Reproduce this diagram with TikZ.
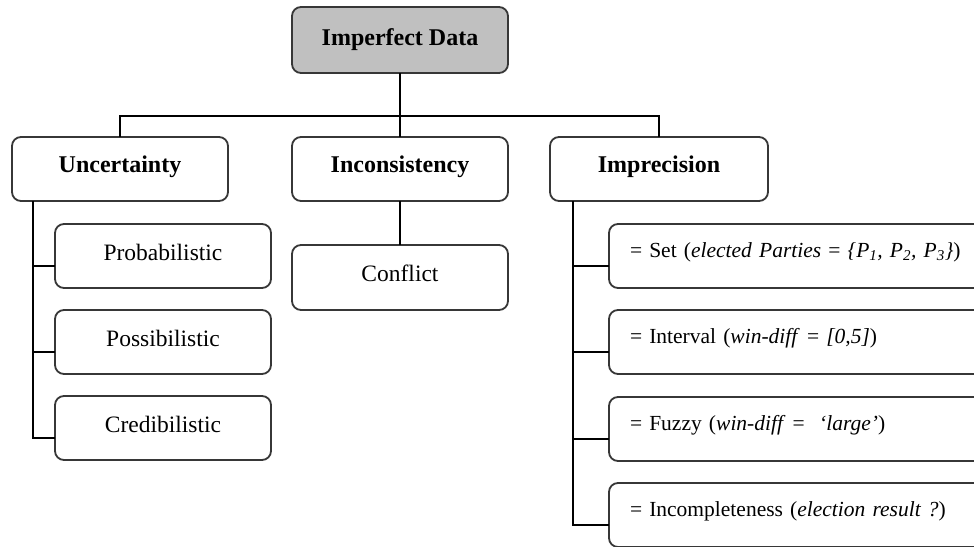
\documentclass[tikz,border=0pt]{standalone}
\usepackage{fontspec}
\setmainfont{Liberation Serif}
\usetikzlibrary{positioning}
\definecolor{boxline}{RGB}{55,55,55}
\definecolor{rootfill}{RGB}{192,192,192}
\tikzset{
  box/.style={draw=boxline, line width=1.8pt, rounded corners=9pt, fill=white,
    minimum width=216pt, minimum height=64pt, inner sep=0pt, outer sep=0pt, anchor=north west},
  headbox/.style={box, font=\fontsize{24}{28}\selectfont\bfseries, text height=16pt, text depth=9pt},
  subbox/.style={box, font=\fontsize{23.5}{28}\selectfont, text height=16pt, text depth=8pt},
  rightbox/.style={box, minimum width=381pt, text width=339pt, align=left, inner xsep=21pt,
    font=\fontsize{21.5}{26}\selectfont, text height=14.5pt, text depth=12pt},
  conn/.style={draw=black, line width=1.7pt}
}
\begin{document}
\begin{tikzpicture}[x=1pt,y=-1pt]
\useasboundingbox (0,0) rectangle (974,546);
\clip (0,0) rectangle (974,546);
\fill[white] (0,0) rectangle (974,546);
% top
\node[headbox, fill=rootfill, minimum height=66pt, text depth=6pt] (root) at (292,7) {Imperfect Data};
% level 1
\node[headbox] (unc) at (12,137) {Uncertainty};
\node[headbox] (inc) at (292,137) {Inconsistency};
\node[headbox, minimum width=218pt] (imp) at (550,137) {Imprecision};
% uncertainty children
\node[subbox] (pro) at (55,224) {Probabilistic};
\node[subbox] (pos) at (55,310) {Possibilistic};
\node[subbox] (cre) at (55,396) {Credibilistic};
% inconsistency child
\node[subbox, minimum height=65pt] (con) at (292,245) {Conflict};
% imprecision children
\node[rightbox] (set) at (609,224) {= Set (\textit{elected Parties} = \textit{\{P\textsubscript{1}, P\textsubscript{2}, P\textsubscript{3}\}})};
\node[rightbox] (int) at (609,310) {= Interval (\textit{win-diff} = \textit{[0,5]})};
\node[rightbox] (fuz) at (609,397) {= Fuzzy (\textit{win-diff} = \ \textit{`large'})};
\node[rightbox] (inm) at (609,483) {= Incompleteness (\textit{election result ?})};
% connectors
\coordinate (bus) at (root.south |- 0,116);
\draw[conn] (root.south) -- (bus);
\draw[conn] (unc.north) |- (bus) -| (imp.north);
\draw[conn] (bus) -- (inc.north);
\draw[conn] (inc.south) -- (con.north);
\coordinate (ustem) at ([xshift=21pt]unc.south west);
\draw[conn] (ustem) |- ([yshift=-10pt]cre.west);
\draw[conn] ([yshift=-10pt]pro.west) -- ++(-22,0);
\draw[conn] ([yshift=-10pt]pos.west) -- ++(-22,0);
\coordinate (istem) at ([xshift=23pt]imp.south west);
\draw[conn] (istem) |- ([yshift=-10pt]inm.west);
\draw[conn] ([yshift=-10pt]set.west) -- ++(-36,0);
\draw[conn] ([yshift=-10pt]int.west) -- ++(-36,0);
\draw[conn] ([yshift=-10pt]fuz.west) -- ++(-36,0);
\end{tikzpicture}
\end{document}
